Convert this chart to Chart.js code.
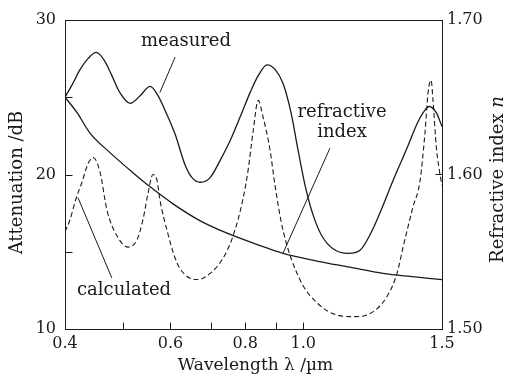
<!DOCTYPE html>
<html>
<head>
<meta charset="utf-8">
<script src="https://cdn.jsdelivr.net/npm/chart.js@4.4.1/dist/chart.umd.min.js"></script>
<style>
  html, body { margin: 0; padding: 0; background: #fff; }
  #wrap { width: 507px; height: 376px; }
</style>
</head>
<body>
<div id="wrap"><canvas id="chart" width="507" height="376"></canvas></div>
<script>
// wavelength (um) / attenuation (dB), measured
const measuredWl = [0.400, 0.411, 0.424, 0.437, 0.451, 0.465, 0.479, 0.494, 0.514, 0.534, 0.555, 0.572, 0.590, 0.611, 0.635, 0.652, 0.673, 0.699, 0.726, 0.755, 0.784, 0.815, 0.841, 0.870, 0.897, 0.925, 0.954, 0.980, 1.007, 1.038, 1.075, 1.121, 1.188, 1.244, 1.308, 1.359, 1.412, 1.490, 1.550, 1.586, 1.622, 1.668, 1.705];
const measuredDb = [25.0, 25.8, 26.8, 27.5, 27.9, 27.4, 26.4, 25.3, 24.6, 25.1, 25.7, 25.1, 24.0, 22.6, 20.6, 19.8, 19.5, 19.8, 20.9, 22.2, 23.7, 25.3, 26.4, 27.1, 26.8, 25.9, 24.0, 21.6, 19.3, 17.4, 16.0, 15.2, 14.9, 15.1, 16.5, 18.0, 19.6, 21.7, 23.3, 24.0, 24.4, 24.0, 23.1];

// calculated
const calcWl = [0.400, 0.408, 0.417, 0.427, 0.437, 0.446, 0.458, 0.470, 0.489, 0.510, 0.528, 0.540, 0.550, 0.561, 0.570, 0.576, 0.592, 0.615, 0.640, 0.667, 0.699, 0.735, 0.763, 0.793, 0.809, 0.824, 0.841, 0.857, 0.880, 0.897, 0.925, 0.987, 1.054, 1.139, 1.211, 1.293, 1.380, 1.434, 1.468, 1.525, 1.567, 1.597, 1.616, 1.635, 1.647, 1.668, 1.692, 1.705];
const calcDb = [16.3, 17.1, 18.4, 19.5, 20.7, 21.1, 20.1, 17.7, 16.0, 15.3, 15.8, 17.1, 18.7, 20.0, 19.6, 18.4, 16.4, 14.3, 13.4, 13.2, 13.6, 14.6, 16.0, 18.4, 20.3, 22.7, 24.8, 23.7, 21.6, 19.3, 16.4, 13.2, 11.7, 10.9, 10.8, 11.0, 12.1, 13.6, 15.3, 17.9, 19.6, 22.7, 25.3, 26.1, 24.8, 21.8, 20.0, 19.3];

// refractive index n (right axis)
const indexWl = [0.400, 0.419, 0.440, 0.476, 0.520, 0.555, 0.606, 0.673, 0.746, 0.847, 0.925, 1.054, 1.197, 1.359, 1.508, 1.705];
const indexN = [1.650, 1.640, 1.627, 1.614, 1.601, 1.592, 1.581, 1.570, 1.562, 1.554, 1.549, 1.544, 1.540, 1.536, 1.534, 1.532];

// axis ticks
const xMin = 0.4, xMax = 1.705;
const xTicks = [0.4, 0.6, 0.8, 1.0, xMax];
const xTickLabels = ['0.4', '0.6', '0.8', '1.0', '1.5'];
const xMinorTicks = [0.5, 0.6, 0.7, 0.8, 0.9, 1.0];
const yTicks = [10, 20, 30];
const yMinorTicks = [15, 20, 25];
const y1Ticks = [1.5, 1.6, 1.7];
const y1MinorTicks = [1.6];

// text labels with leader lines, in data units (x: um, y: dB)
const notes = [
  { text: 'measured', x: 0.637, y: 28.6, line: [0.611, 27.6, 0.576, 25.3] },
  { text: 'refractive', x: 1.161, y: 24.0, line: null },
  { text: 'index', x: 1.161, y: 22.7, line: [1.108, 21.7, 0.925, 14.9] },
  { text: 'calculated', x: 0.502, y: 12.5, line: [0.4205, 18.5, 0.479, 13.3] }
];

const FONT = '"DejaVu Serif", "Liberation Serif", serif';
const INK = '#1a1a1a';

const toPoints = (xs, ys) => xs.map((x, i) => ({ x, y: ys[i] }));

const overlay = {
  id: 'overlay',
  afterDraw(chart) {
    const { ctx, chartArea: a, scales } = chart;
    const { x, y, y1 } = scales;
    ctx.save();
    ctx.strokeStyle = INK;
    ctx.lineWidth = 1;

    // frame
    const L = Math.round(a.left) + 0.5, T = Math.round(a.top) + 0.5;
    const R = Math.round(a.right) + 0.5, B = Math.round(a.bottom) + 0.5;
    ctx.strokeRect(L, T, R - L, B - T);

    // inward tick marks
    ctx.beginPath();
    xMinorTicks.forEach(v => {
      const px = Math.round(x.getPixelForValue(v)) + 0.5;
      ctx.moveTo(px, B); ctx.lineTo(px, B - 7);
    });
    yMinorTicks.forEach(v => {
      const py = Math.round(y.getPixelForValue(v)) + 0.5;
      ctx.moveTo(L, py); ctx.lineTo(L + 7, py);
    });
    y1MinorTicks.forEach(v => {
      const py = Math.round(y1.getPixelForValue(v)) + 0.5;
      ctx.moveTo(R, py); ctx.lineTo(R - 7, py);
    });
    ctx.stroke();

    // notes and leader lines
    ctx.fillStyle = INK;
    ctx.font = '18px ' + FONT;
    ctx.textAlign = 'center';
    ctx.textBaseline = 'middle';
    notes.forEach(n => {
      ctx.fillText(n.text, x.getPixelForValue(n.x), y.getPixelForValue(n.y));
      if (n.line) {
        ctx.beginPath();
        ctx.moveTo(x.getPixelForValue(n.line[0]), y.getPixelForValue(n.line[1]));
        ctx.lineTo(x.getPixelForValue(n.line[2]), y.getPixelForValue(n.line[3]));
        ctx.stroke();
      }
    });

    // axis titles
    const midY = (a.top + a.bottom) / 2;
    ctx.save();
    ctx.translate(17, midY + 8);
    ctx.rotate(-Math.PI / 2);
    ctx.fillText('Attenuation /dB', 0, 0);
    ctx.restore();

    ctx.save();
    ctx.translate(498, midY + 5);
    ctx.rotate(-Math.PI / 2);
    const plain = 'Refractive index ';
    ctx.font = '18px ' + FONT;
    const w1 = ctx.measureText(plain).width;
    ctx.font = 'italic 18px ' + FONT;
    const w2 = ctx.measureText('n').width;
    ctx.textAlign = 'left';
    ctx.font = '18px ' + FONT;
    ctx.fillText(plain, -(w1 + w2) / 2, 0);
    ctx.font = 'italic 18px ' + FONT;
    ctx.fillText('n', -(w1 + w2) / 2 + w1, 0);
    ctx.restore();

    ctx.font = '17px ' + FONT;
    ctx.textAlign = 'center';
    ctx.fillText('Wavelength \u03bb /\u00b5m', (a.left + a.right) / 2 + 2, 366);

    ctx.restore();
  }
};

const tickFont = { family: FONT, size: 16 };

new Chart(document.getElementById('chart'), {
  type: 'line',
  data: {
    datasets: [
      {
        label: 'measured',
        data: toPoints(measuredWl, measuredDb),
        yAxisID: 'y',
        borderColor: INK,
        borderWidth: 1.3,
        pointRadius: 0,
        cubicInterpolationMode: 'monotone'
      },
      {
        label: 'calculated',
        data: toPoints(calcWl, calcDb),
        yAxisID: 'y',
        borderColor: INK,
        borderWidth: 1.1,
        borderDash: [5, 3],
        pointRadius: 0,
        cubicInterpolationMode: 'monotone'
      },
      {
        label: 'refractive index',
        data: toPoints(indexWl, indexN),
        yAxisID: 'y1',
        borderColor: INK,
        borderWidth: 1.3,
        pointRadius: 0,
        cubicInterpolationMode: 'monotone'
      }
    ]
  },
  options: {
    responsive: false,
    animation: false,
    devicePixelRatio: 1,
    layout: { padding: { top: 20, left: 0, right: 0, bottom: 0 } },
    plugins: {
      legend: { display: false },
      tooltip: { enabled: false }
    },
    scales: {
      x: {
        type: 'logarithmic',
        min: xMin,
        max: xMax,
        grid: { display: false, drawTicks: false },
        border: { display: false },
        afterBuildTicks: scale => { scale.ticks = xTicks.map(v => ({ value: v })); },
        afterFit: scale => { scale.height = 47; },
        ticks: {
          color: INK,
          font: tickFont,
          padding: 5,
          maxRotation: 0,
          autoSkip: false,
          callback: (value) => {
            const i = xTicks.indexOf(value);
            return i >= 0 ? xTickLabels[i] : '';
          }
        }
      },
      y: {
        type: 'linear',
        position: 'left',
        min: 10,
        max: 30,
        grid: { display: false, drawTicks: false },
        border: { display: false },
        afterBuildTicks: scale => { scale.ticks = yTicks.map(v => ({ value: v })); },
        afterFit: scale => { scale.width = 65; },
        ticks: { color: INK, font: tickFont, padding: 9 }
      },
      y1: {
        type: 'linear',
        position: 'right',
        min: 1.5,
        max: 1.7,
        grid: { display: false, drawTicks: false },
        border: { display: false },
        afterBuildTicks: scale => { scale.ticks = y1Ticks.map(v => ({ value: v })); },
        afterFit: scale => { scale.width = 65; },
        ticks: { color: INK, font: tickFont, padding: 5, callback: v => v.toFixed(2) }
      }
    }
  },
  plugins: [overlay]
});
</script>
</body>
</html>
